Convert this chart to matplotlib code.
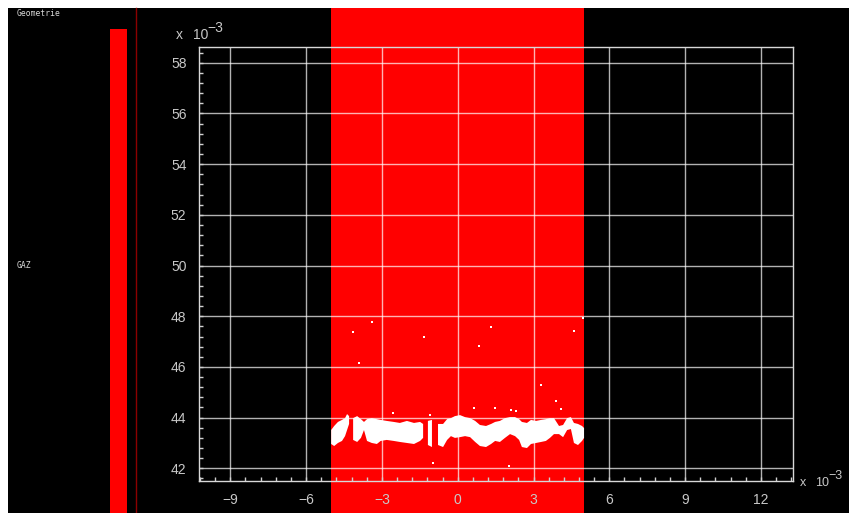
import matplotlib as mpl
import matplotlib.pyplot as plt
import numpy as np
from matplotlib.patches import Rectangle
from matplotlib.lines import Line2D
from matplotlib.ticker import MultipleLocator
from matplotlib.transforms import blended_transform_factory

mpl.rcParams['font.family'] = ['Liberation Sans', 'DejaVu Sans']

W, H = 849, 513

# values in units of 1e-3
x_lim = (-10.24, 13.27)
y_lim = (41.5, 58.62)
x_ticks = [-9, -6, -3, 0, 3, 6, 9, 12]
y_ticks = [42, 44, 46, 48, 50, 52, 54, 56, 58]
gas_span = (-5.0, 5.0)

# dense band of hits: upper and lower edge (nan = gap)
band_x = [-5.01, -4.89, -4.74, -4.58, -4.46, -4.38, -4.30, -4.22, -4.14, -3.98,
          -3.83, -3.71, -3.59, -3.40, -3.20, -3.05, -2.81, -2.53, -2.29, -2.01,
          -1.73, -1.49, -1.37, -1.28, -1.18, -1.02, -0.90, -0.78, -0.58, -0.42,
          -0.27, -0.11, 0.09, 0.29, 0.49, 0.69, 0.88, 1.12, 1.32, 1.48,
          1.67, 1.87, 2.07, 2.27, 2.43, 2.54, 2.74, 2.90, 3.10, 3.30,
          3.49, 3.65, 3.81, 4.01, 4.17, 4.33, 4.48, 4.60, 4.76, 4.92, 5.00]
band_top = [43.51, 43.67, 43.83, 43.91, 43.98, 44.14, 44.06, np.nan, 43.98, 44.06,
            43.94, 43.83, 43.94, 43.98, 43.94, 43.91, 43.87, 43.83, 43.79, 43.87,
            43.79, 43.83, 43.75, np.nan, 43.87, 43.91, np.nan, 43.75, 43.75, 43.94,
            43.98, 44.06, 44.10, 44.02, 43.98, 43.87, 43.71, 43.67, 43.75, 43.83,
            43.87, 43.98, 44.02, 44.02, 43.94, 43.83, 43.79, 43.91, 43.87, 43.91,
            43.94, 43.98, 43.98, 43.67, 43.71, 43.98, 44.02, 43.79, 43.75, 43.67, 43.59]
band_bot = [42.96, 42.88, 43.00, 43.08, 43.27, 43.51, 43.75, np.nan, 43.12, 43.04,
            43.20, 43.51, 43.08, 43.00, 42.96, 43.08, 43.12, 43.08, 43.04, 43.00,
            42.96, 43.08, 43.20, np.nan, 42.92, 42.84, np.nan, 42.92, 42.84, 43.12,
            43.27, 43.20, 43.23, 43.27, 43.23, 43.04, 42.88, 42.84, 42.96, 43.08,
            43.04, 43.20, 43.35, 43.27, 43.12, 42.84, 42.80, 42.96, 43.00, 43.04,
            43.08, 43.20, 43.35, 43.35, 43.23, 43.51, 43.55, 43.00, 42.92, 43.08, 43.20]

# isolated hits
hit_x = [-3.40, -4.16, -3.89, -1.32, 1.31, 0.84, 4.61, 4.97, 3.30, 3.88,
         4.08, 0.66, 1.46, 2.10, 2.30, -2.57, -1.08, -0.98, 2.03]
hit_y = [47.78, 47.39, 46.14, 47.17, 47.59, 46.84, 47.43, 47.92, 45.29, 44.67,
         44.33, 44.37, 44.39, 44.30, 44.26, 44.17, 44.10, 42.21, 42.09]

label_col = '#c8c8c8'
label_size = 10

fig = plt.figure(figsize=(W / 100, H / 100), dpi=100, facecolor='white')

# black canvas with white margin top/left
fig.add_artist(Rectangle((8 / W, 0), 1 - 8 / W, (H - 8) / H, transform=fig.transFigure,
                         facecolor='black', edgecolor='none', zorder=-5))

# left geometry panel
fig.text(17 / W, 1 - 13 / H, 'Geometrie', fontsize=5.8, family='DejaVu Sans Mono',
         color='#d8d8d8', va='center', ha='left')
fig.text(17 / W, 1 - 266 / H, 'GAZ', fontsize=5.8, family='DejaVu Sans Mono',
         color='#d8d8d8', va='center', ha='left')
fig.add_artist(Rectangle((110 / W, 0), 17 / W, (H - 29) / H, transform=fig.transFigure,
                         facecolor='red', edgecolor='none', zorder=-4))
fig.add_artist(Line2D([135.5 / W, 135.5 / W], [0, (H - 8) / H], transform=fig.transFigure,
                      color='#8b0000', lw=1, zorder=-4))

ax = fig.add_axes([199 / W, 32 / H, 594 / W, 434 / H])
ax.set_facecolor('none')

# gas volume, spanning full canvas height
blend = blended_transform_factory(ax.transData, fig.transFigure)
fig.add_artist(Rectangle((gas_span[0], 0), gas_span[1] - gas_span[0], (H - 8) / H,
                         transform=blend, facecolor='red', edgecolor='none', zorder=-3))

ax.fill_between(band_x, band_bot, band_top, color='white', lw=0, zorder=2)
ax.scatter(hit_x, hit_y, s=2.5, marker='s', color='white', lw=0, zorder=2)

ax.set_xlim(*x_lim)
ax.set_ylim(*y_lim)
ax.set_xticks(x_ticks)
ax.set_yticks(y_ticks)
ax.xaxis.set_minor_locator(MultipleLocator(0.6))
ax.yaxis.set_minor_locator(MultipleLocator(0.4))
ax.grid(True, which='major', color='white', alpha=0.7, lw=1)
ax.tick_params(which='both', direction='in', length=3, width=1, color='#d0d0d0',
               labelcolor=label_col, labelsize=label_size)
ax.tick_params(axis='y', pad=9)
ax.tick_params(axis='x', pad=9)
for s in ax.spines.values():
    s.set_color('#d8d8d8')
    s.set_linewidth(1)


def exponent_label(x, y, size):
    # "x 10" with a full-size "-3" raised above, as in the original canvas
    fig.text(x / W, 1 - y / H, 'x', fontsize=size, color=label_col, va='baseline')
    fig.text((x + 1.65 * size) / W, 1 - y / H, '10', fontsize=size, color=label_col,
             va='baseline')
    fig.text((x + 3.15 * size) / W, 1 - (y - 7) / H, '\u22123', fontsize=size,
             color=label_col, va='baseline')


exponent_label(176, 39, label_size)
exponent_label(800, 486, 9)

plt.savefig('out.png', dpi=100, facecolor=fig.get_facecolor())
